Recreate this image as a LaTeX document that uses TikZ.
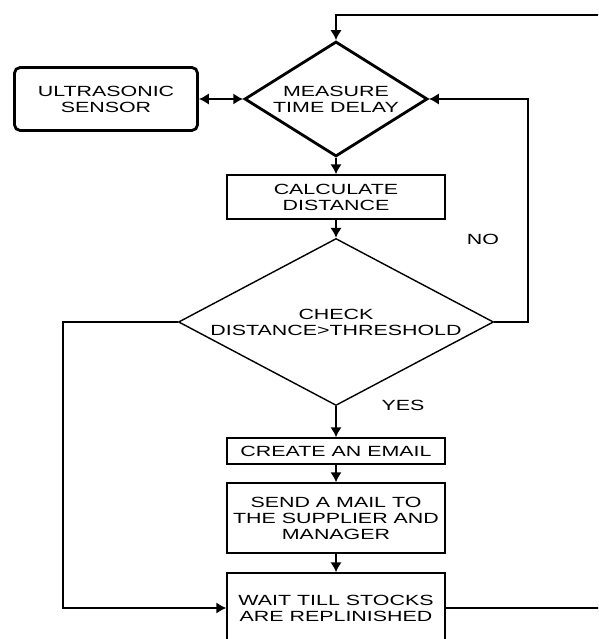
\documentclass[tikz,border=0pt]{standalone}
\usepackage{fontspec}
\setmainfont{Liberation Sans}[FakeStretch=1.45]
\usetikzlibrary{shapes.geometric,arrows.meta}
\tikzset{
  stepbox/.style={draw, line width=1.1pt, minimum width=5.45cm, align=center, inner sep=0pt},
  decide/.style={draw, diamond, align=center, inner sep=0pt},
}
\begin{document}
\begin{tikzpicture}[>={Latex[length=7pt,width=8pt]}, line width=1.2pt,
    font=\fontsize{10.5}{11.4}\selectfont]
        \clip (0,0) rectangle (14.95,15.975);

        \node[decide, line width=2pt, aspect=1.59, minimum width=4.575cm, minimum height=2.875cm]
            (measure) at (8.4,13.5) {MEASURE\\TIME DELAY};
        \node[draw, rounded corners=4pt, line width=2pt, minimum width=4.575cm,
            minimum height=1.575cm, align=center] (sensor) at (2.65,13.5) {ULTRASONIC\\SENSOR};
        \node[stepbox, minimum height=1.1cm] (calc) at (8.4,11.05) {CALCULATE\\DISTANCE};
        \node[decide, line width=1pt, aspect=1.886, minimum width=7.875cm, minimum height=4.175cm]
            (check) at (8.4,7.925) {CHECK\\DISTANCE>THRESHOLD};
        \node[stepbox, minimum height=0.65cm] (email) at (8.4,4.7) {CREATE AN EMAIL};
        \node[stepbox, minimum height=1.75cm] (mail) at (8.4,3.025) {SEND A MAIL TO\\THE SUPPLIER AND\\MANAGER};
        \node[stepbox, minimum height=1.75cm] (wait) at (8.4,0.775) {WAIT TILL STOCKS\\ARE REPLINISHED};

        \node (no) at (12.075,10.0) {NO};
        \node (yes) at (10.075,5.85) {YES};

        \coordinate (noloop) at (13.2,13.5);
        \coordinate (skip) at (1.575,0.775);
        \coordinate (back) at (15.3,15.6);

        \draw[<->] (sensor.east) -- (measure.west);
        \draw[->] (measure.south) -- (calc.north);
        \draw[->] (calc.south) -- (check.north);
        \draw[->] (check.east) -| (noloop) -- (measure.east);
        \draw[->] (check.south) -- (email.north);
        \draw[->] (email.south) -- (mail.north);
        \draw[->] (mail.south) -- (wait.north);
        \draw[->] (check.west) -| (skip) -- (wait.west);
        \draw[->] (wait.east) -| (back) -| (measure.north);
\end{tikzpicture}
\end{document}
